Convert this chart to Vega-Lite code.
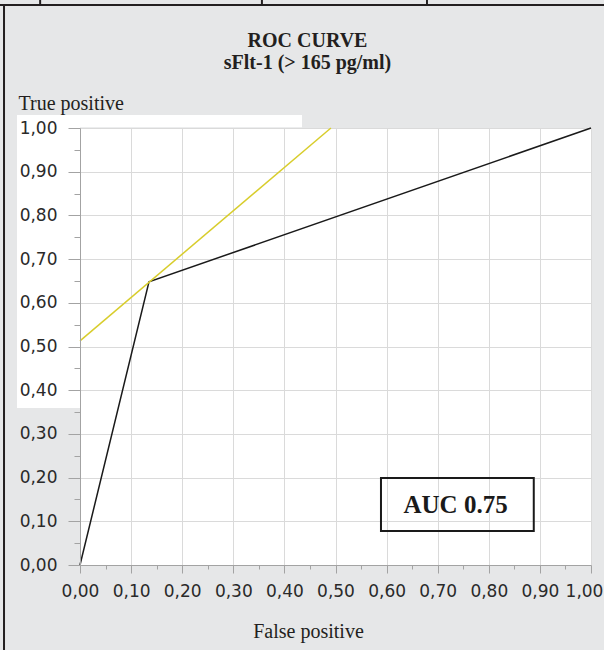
{
  "$schema": "https://vega.github.io/schema/vega-lite/v6.json",
  "width": 511,
  "height": 437,
  "autosize": {"type": "none"},
  "padding": {"left": 80, "top": 128, "right": 13, "bottom": 85},
  "background": "#e6e7e8",
  "config": {"view": {"fill": "white", "stroke": null}},
  "title": {
    "text": ["ROC CURVE", "sFlt-1 (> 165 pg/ml)"],
    "font": "Liberation Serif",
    "fontSize": 20,
    "fontWeight": "bold",
    "color": "#231f20",
    "lineHeight": 22,
    "anchor": "middle",
    "dx": -28,
    "offset": -75
  },
  "datasets": {
    "patch": [
      {"x": -0.1233, "x2": 0, "y": 0.359, "y2": 1.0297},
      {"x": -0.1233, "x2": 0.4344, "y": 1.002, "y2": 1.0297}
    ],
    "roc": [
      {"fpr": 0, "tpr": 0},
      {"fpr": 0.135, "tpr": 0.648},
      {"fpr": 1, "tpr": 1}
    ],
    "tangent": [
      {"fpr": 0, "tpr": 0.513},
      {"fpr": 0.491, "tpr": 1}
    ],
    "auc": [{"label": "AUC 0.75"}],
    "topticks": [{"x": -0.078}, {"x": 0.356}, {"x": 0.679}]
  },
  "resolve": {"axis": {"x": "independent", "y": "independent"}},
  "layer": [
    {
      "data": {"name": "patch"},
      "mark": {"type": "rect", "color": "white"},
      "encoding": {
        "x": {
          "field": "x", "type": "quantitative",
          "scale": {"domain": [0, 1], "nice": false, "zero": false},
          "axis": {"orient": "bottom", "values": [0, 0.1, 0.2, 0.3, 0.4, 0.5, 0.6, 0.7, 0.8, 0.9, 1], "grid": true, "gridColor": "#dadada", "gridWidth": 1, "labels": false, "ticks": false, "domain": false, "title": null, "zindex": 0}
        },
        "x2": {"field": "x2"},
        "y": {
          "field": "y", "type": "quantitative",
          "scale": {"domain": [0, 1], "nice": false, "zero": false},
          "axis": {"orient": "left", "values": [0, 0.1, 0.2, 0.3, 0.4, 0.5, 0.6, 0.7, 0.8, 0.9, 1], "grid": true, "gridColor": "#dadada", "gridWidth": 1, "labels": false, "ticks": false, "domain": false, "title": null, "zindex": 0}
        },
        "y2": {"field": "y2"}
      }
    },
    {
      "data": {"name": "roc"},
      "mark": {"type": "line", "color": "#1a1a1a", "strokeWidth": 1.5},
      "encoding": {
        "x": {
          "field": "fpr", "type": "quantitative",
          "axis": {
            "orient": "bottom",
            "values": [0, 0.05, 0.1, 0.15, 0.2, 0.25, 0.3, 0.35, 0.4, 0.45, 0.5, 0.55, 0.6, 0.65, 0.7, 0.75, 0.8, 0.85, 0.9, 0.95, 1],
            "grid": false,
            "domain": true, "domainColor": "#a3a3a3", "domainWidth": 1,
            "ticks": true, "tickColor": "#a3a3a3", "tickWidth": 1,
            "tickSize": {"condition": {"test": "round(datum.value*100) % 10 != 0", "value": 4}, "value": 8},
            "labelExpr": "round(datum.value*100) % 10 != 0 ? '' : replace(format(datum.value, '.2f'), '.', ',')",
            "labelFont": "DejaVu Sans", "labelFontSize": 17, "labelColor": "#2a2a2a",
            "labelBaseline": "top", "labelPadding": 10,
            "labelOffset": {"condition": {"test": "datum.value == 1", "value": -7}, "value": 0},
            "labelOverlap": false, "labelBound": false, "labelFlush": false,
            "title": "False positive",
            "titleFont": "Liberation Serif", "titleFontSize": 20, "titleFontWeight": "normal", "titleColor": "#231f20",
            "titleX": 228, "titleY": 72, "titleAlign": "center", "titleBaseline": "alphabetic",
            "zindex": 1
          }
        },
        "y": {
          "field": "tpr", "type": "quantitative",
          "axis": {
            "orient": "left",
            "values": [0, 0.05, 0.1, 0.15, 0.2, 0.25, 0.3, 0.35, 0.4, 0.45, 0.5, 0.55, 0.6, 0.65, 0.7, 0.75, 0.8, 0.85, 0.9, 0.95, 1],
            "grid": false,
            "domain": true, "domainColor": "#a3a3a3", "domainWidth": 1,
            "ticks": true, "tickColor": "#a3a3a3", "tickWidth": 1,
            "tickSize": {"condition": {"test": "round(datum.value*100) % 10 != 0", "value": 6}, "value": 12},
            "labelExpr": "round(datum.value*100) % 10 != 0 ? '' : replace(format(datum.value, '.2f'), '.', ',')",
            "labelFont": "DejaVu Sans", "labelFontSize": 17, "labelColor": "#2a2a2a",
            "labelAlign": "right", "labelBaseline": "middle", "labelPadding": 11,
            "labelOverlap": false, "labelBound": false, "labelFlush": false,
            "title": "True positive",
            "titleFont": "Liberation Serif", "titleFontSize": 20, "titleFontWeight": "normal", "titleColor": "#231f20",
            "titleAngle": 0, "titleX": -62, "titleY": -19, "titleAlign": "left", "titleBaseline": "alphabetic",
            "zindex": 1
          }
        }
      }
    },
    {
      "data": {"name": "tangent"},
      "mark": {"type": "line", "color": "#d8cd2c", "strokeWidth": 1.5},
      "encoding": {
        "x": {"field": "fpr", "type": "quantitative", "axis": null},
        "y": {"field": "tpr", "type": "quantitative", "axis": null}
      }
    },
    {
      "data": {"name": "auc"},
      "mark": {"type": "rect", "fill": null, "fillOpacity": 0, "stroke": "#1a1a1a", "strokeWidth": 2},
      "encoding": {
        "x": {"datum": 0.589, "type": "quantitative", "axis": null},
        "x2": {"datum": 0.888},
        "y": {"datum": 0.078, "type": "quantitative", "axis": null},
        "y2": {"datum": 0.199}
      }
    },
    {
      "data": {"name": "auc"},
      "mark": {"type": "text", "font": "Liberation Serif", "fontSize": 25, "fontWeight": "bold", "color": "#1a1a1a", "align": "center", "baseline": "alphabetic"},
      "encoding": {
        "x": {"datum": 0.735, "type": "quantitative", "axis": null},
        "y": {"datum": 0.119, "type": "quantitative", "axis": null},
        "text": {"field": "label"}
      }
    },
    {
      "data": {"name": "auc"},
      "mark": {"type": "rule", "color": "#231f20", "strokeWidth": 2},
      "encoding": {
        "x": {"datum": -0.1487, "type": "quantitative", "axis": null},
        "y": {"datum": 1.2815, "type": "quantitative", "axis": null},
        "y2": {"datum": -0.1945}
      }
    },
    {
      "data": {"name": "auc"},
      "mark": {"type": "rule", "color": "#231f20", "strokeWidth": 2},
      "encoding": {
        "x": {"datum": -0.157, "type": "quantitative", "axis": null},
        "x2": {"datum": 1.026},
        "y": {"datum": 1.2815, "type": "quantitative", "axis": null}
      }
    },
    {
      "data": {"name": "topticks"},
      "mark": {"type": "rule", "color": "#231f20", "strokeWidth": 2},
      "encoding": {
        "x": {"field": "x", "type": "quantitative", "axis": null},
        "y": {"datum": 1.2815, "type": "quantitative", "axis": null},
        "y2": {"datum": 1.295}
      }
    }
  ]
}
